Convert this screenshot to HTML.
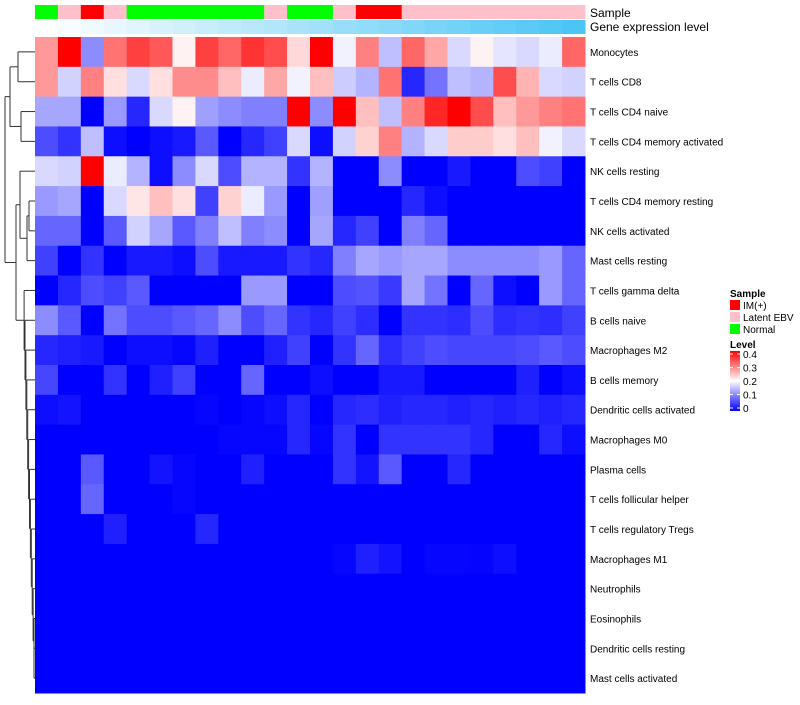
<!DOCTYPE html>
<html><head><meta charset="utf-8"><style>
body{margin:0;background:#fff;font-family:"Liberation Sans",sans-serif}
svg text{font-family:"Liberation Sans",sans-serif;fill:#000}
</style></head><body>
<svg id="chart" width="800" height="700" xmlns="http://www.w3.org/2000/svg">
<g id="dendro" stroke="#333" stroke-width="1" fill="none"></g>
<g id="cells"></g>
<g id="annot"></g>
<g id="labels" font-size="10"></g>
<g id="legend"></g>
</svg>
<script>
const rowNames=["Monocytes","T cells CD8","T cells CD4 naive","T cells CD4 memory activated","NK cells resting","T cells CD4 memory resting","NK cells activated","Mast cells resting","T cells gamma delta","B cells naive","Macrophages M2","B cells memory","Dendritic cells activated","Macrophages M0","Plasma cells","T cells follicular helper","T cells regulatory  Tregs","Macrophages M1","Neutrophils","Eosinophils","Dendritic cells resting","Mast cells activated"];
const sampleGroups=["Normal","Latent EBV","IM(+)","Latent EBV","Normal","Normal","Normal","Normal","Normal","Normal","Latent EBV","Normal","Normal","Latent EBV","IM(+)","IM(+)","Latent EBV","Latent EBV","Latent EBV","Latent EBV","Latent EBV","Latent EBV","Latent EBV","Latent EBV"];
const geneLevel=[0,1,2,3,4,5,6,7,8,9,10,11,12,13,14,15,16,17,18,19,20,21,22,23];
const z=[0,0,0,0,0,0,0,0,0,0,0,0,0,0,0,0,0,0,0,0,0,0,0,0];
const values=[
[0.28,0.4,0.11,0.31,0.35,0.33,0.21,0.35,0.32,0.36,0.34,0.23,0.4,0.19,0.3,0.15,0.32,0.27,0.17,0.21,0.18,0.17,0.185,0.32],
[0.28,0.165,0.3,0.225,0.17,0.225,0.29,0.29,0.25,0.185,0.27,0.19,0.25,0.16,0.14,0.31,0.03,0.09,0.15,0.14,0.34,0.26,0.17,0.165],
[0.13,0.13,0,0.12,0.03,0.17,0.21,0.125,0.11,0.1,0.1,0.4,0.11,0.4,0.25,0.15,0.3,0.37,0.4,0.34,0.25,0.28,0.3,0.31],
[0.06,0.04,0.15,0.01,0,0.01,0.02,0.07,0,0.03,0.05,0.17,0.01,0.165,0.235,0.3,0.14,0.17,0.24,0.24,0.225,0.25,0.19,0.17],
[0.17,0.165,0.4,0.185,0.14,0.01,0.11,0.17,0.06,0.14,0.14,0.04,0.14,0,0,0.11,0,0,0.02,0,0,0.06,0.05,0],
[0.12,0.13,0,0.17,0.22,0.25,0.225,0.05,0.235,0.185,0.12,0,0.125,0,0,0,0.03,0.01,0,0,0,0,0,0],
[0.08,0.08,0,0.07,0.165,0.13,0.07,0.1,0.15,0.1,0.11,0,0.13,0.03,0.05,0,0.1,0.08,0,0,0,0,0,0],
[0.05,0,0.04,0,0.02,0.02,0.01,0.06,0.02,0.02,0.02,0.04,0.03,0.1,0.13,0.12,0.13,0.13,0.11,0.11,0.11,0.11,0.12,0.08],
[0,0.03,0.06,0.05,0.07,0,0,0,0,0.12,0.12,0,0,0.06,0.065,0.045,0.13,0.09,0,0.08,0.01,0,0.12,0.08],
[0.11,0.07,0,0.09,0.06,0.06,0.07,0.08,0.11,0.06,0.08,0.04,0.03,0.05,0.035,0,0.04,0.04,0.035,0.06,0.035,0.04,0.035,0.05],
[0.03,0.025,0.02,0,0.01,0.01,0.005,0.025,0,0,0.025,0.05,0,0.04,0.08,0.035,0.05,0.06,0.055,0.055,0.055,0.06,0.07,0.06],
[0.055,0,0,0.04,0,0.025,0.05,0,0,0.08,0,0,0.01,0,0,0.02,0.02,0,0,0,0,0.025,0,0.01],
[0.01,0.015,0,0,0,0,0,0.005,0,0.005,0.01,0.03,0,0.03,0.035,0.025,0.03,0.03,0.025,0.03,0.025,0.03,0.025,0.03],
[0,0,0,0,0,0,0,0,0.005,0.005,0.005,0.03,0.005,0.04,0,0.04,0.04,0.04,0.04,0.03,0,0,0.03,0.01],
[0,0,0.07,0,0,0.015,0.005,0,0,0.025,0,0,0,0.04,0.015,0.07,0,0,0.03,0,0,0,0,0],
[0,0,0.08,0,0,0,0.005,0,0,0,0,0,0,0,0,0,0,0,0,0,0,0,0,0],
[0,0,0,0.025,0,0,0,0.03,0,0,0,0,0,0,0,0,0,0,0,0,0,0,0,0],
[0,0,0,0,0,0,0,0,0,0,0,0,0,0.005,0.025,0.015,0,0.005,0.005,0.003,0.01,0,0,0],
z,z,z,z];
const levelTicks=[0,0.1,0.2,0.3,0.4];
const groupColors={"IM(+)":"#ff0000","Latent EBV":"#ffc0cb","Normal":"#00ff00"};
const legendGroups=["IM(+)","Latent EBV","Normal"];

const NS="http://www.w3.org/2000/svg";
function mk(tag,attrs,parent){const e=document.createElementNS(NS,tag);for(const k in attrs)e.setAttribute(k,attrs[k]);parent.appendChild(e);return e;}
const X0=35,X1=585,Y0=37,Y1=693;
const nC=24,nR=rowNames.length;
const cw=(X1-X0)/nC,rh=(Y1-Y0)/nR;
const xPos=j=>X0+j*cw, yPos=i=>Y0+i*rh;
function color(v){v=Math.max(0,Math.min(0.4,v));let r,g,b;
 if(v<=0.2){const t=v/0.2;r=g=Math.round(255*t);b=255;}else{const t=(v-0.2)/0.2;r=255;g=b=Math.round(255*(1-t));}
 return `rgb(${r},${g},${b})`;}
const cells=document.getElementById('cells');
values.forEach((row,i)=>row.forEach((v,j)=>{
 const r=mk('rect',{x:xPos(j),y:yPos(i),width:cw+0.5,height:rh+0.5,fill:color(v)},cells);
 
 
}));
const annot=document.getElementById('annot');
sampleGroups.forEach((g,j)=>{
 const r=mk('rect',{x:xPos(j),y:5,width:cw+0.5,height:14,fill:groupColors[g]},annot);
 
 
});
const gmax=Math.max(...geneLevel);
geneLevel.forEach((g,j)=>{const t=g/gmax;
 const c=`rgb(${Math.round(255+(75-255)*t)},${Math.round(255+(197-255)*t)},${Math.round(255+(245-255)*t)})`;
 const r=mk('rect',{x:xPos(j),y:20,width:cw+0.5,height:14,fill:c},annot);
 
 
});
let tx=mk('text',{x:590,y:17,'font-size':12},annot);tx.textContent="Sample";

tx=mk('text',{x:590,y:31,'font-size':12},annot);tx.textContent="Gene expression level";

const labels=document.getElementById('labels');
rowNames.forEach((n,i)=>{const e=mk('text',{x:590,y:yPos(i)+rh/2+4},labels);e.textContent=n;
 
 });
const dg=document.getElementById('dendro');
const yc=i=>yPos(i)+rh/2;
function L(x1,y1,x2,y2){mk('line',{x1,y1,x2,y2},dg);}
function join(xa,ya,xb,yb,xj){L(xa,ya,xj,ya);L(xb,yb,xj,yb);L(xj,ya,xj,yb);return [xj,(ya+yb)/2];}
const ja=join(35,yc(0),35,yc(1),18), jb=join(35,yc(2),35,yc(3),21);
const topC=join(ja[0],ja[1],jb[0],jb[1],10);
const jm=join(35,yc(5),35,yc(6),29);
const jk=join(jm[0],jm[1],35,yc(7),27);
const jc=join(35,yc(4),jk[0],jk[1],20);
let jq=join(35,yc(20),35,yc(21),34);
for(let i=19;i>=8;i--){jq=join(35,yc(i),jq[0],jq[1],Math.max(22,34-(19-i)*0.9));}
const jmid=join(jc[0],jc[1],jq[0],jq[1],16);
join(topC[0],topC[1],jmid[0],jmid[1],5);
const lg=document.getElementById('legend');
tx=mk('text',{x:730,y:297,'font-size':10,'font-weight':'bold'},lg);tx.textContent="Sample";

legendGroups.forEach((g,i)=>{const r=mk('rect',{x:730,y:300+i*12,width:10,height:10,fill:groupColors[g]},lg);
 
 const e=mk('text',{x:743,y:309+i*12,'font-size':10},lg);e.textContent=g;
 });
tx=mk('text',{x:730,y:348,'font-size':10,'font-weight':'bold'},lg);tx.textContent="Level";

const defs=mk('defs',{},lg);const gr=mk('linearGradient',{id:'lv',x1:0,y1:1,x2:0,y2:0},defs);
mk('stop',{offset:'0','stop-color':'#0000ff'},gr);mk('stop',{offset:'0.5','stop-color':'#ffffff'},gr);mk('stop',{offset:'1','stop-color':'#ff0000'},gr);
const ly=v=>408-v/0.4*54;
const cb=mk('rect',{x:730,y:ly(0.4)-3,width:10,height:60,fill:'url(#lv)'},lg);

levelTicks.forEach(v=>{mk('line',{x1:730,x2:733,y1:ly(v),y2:ly(v),stroke:'#fff'},lg);mk('line',{x1:737,x2:740,y1:ly(v),y2:ly(v),stroke:'#fff'},lg);
 const e=mk('text',{x:743,y:ly(v)+4,'font-size':10},lg);e.textContent=String(v);
 });
</script>
</body></html>
